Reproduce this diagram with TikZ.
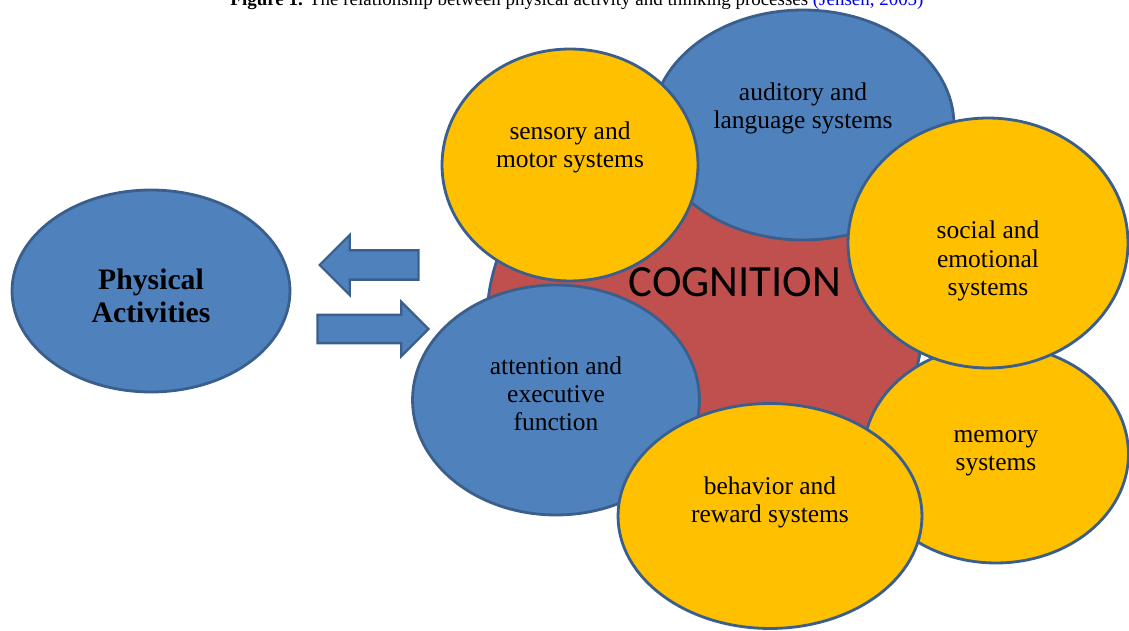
\documentclass[tikz,border=0pt]{standalone}
\usepackage{fontspec}
\setmainfont{Liberation Serif}
\newfontfamily\cogfont{Carlito}
\usepackage{tikz}
\usetikzlibrary{shapes.geometric,shapes.arrows}
\definecolor{sysblue}{HTML}{4F81BD}
\definecolor{sysline}{HTML}{3A5F8C}
\definecolor{sysyellow}{HTML}{FFC000}
\definecolor{cogred}{HTML}{C0504D}
\definecolor{citeblue}{HTML}{0000EE}
\tikzstyle{system}=[ellipse,draw=sysline,line width=1.6pt,inner sep=0pt]
\tikzstyle{systext}=[align=center,font=\fontsize{14.5}{16}\selectfont]
\tikzstyle{blockarrow}=[single arrow,draw=sysline,fill=sysblue,line width=1.3pt,inner sep=0pt,minimum size=0pt]

\begin{document}
\begin{tikzpicture}[x=0.02cm,y=-0.02cm]
    \useasboundingbox (0,0) rectangle (1129,631);
    % caption, cut at the top
    \node[anchor=base,font=\fontsize{10.8}{13}\selectfont] (caption) at (577,6)
        {\textbf{Figure 1.} The relationship between physical activity and thinking processes \textcolor{citeblue}{(Jensen, 2005)}};
    % physical activities and the two arrows
    \node[system,fill=sysblue,minimum width=5.56cm,minimum height=4.04cm] (pa) at (151,291) {};
    \node[align=center,font=\bfseries\fontsize{16.9}{18.7}\selectfont] (pa-t) at ([yshift=-5*0.02cm] pa.center) {Physical\\Activities};
    \node[blockarrow,minimum height=1.98cm,minimum width=1.16cm,single arrow head extend=0.31cm,
          shape border rotate=180,anchor=tip,text height=0.54cm] (back) at (318,265) {};
    \node[blockarrow,minimum height=2.22cm,minimum width=1.04cm,single arrow head extend=0.26cm,
          anchor=tip,text height=0.52cm] (forth) at (430,329) {};
    % cognition in the middle
    \node[ellipse,draw=sysline,line width=1.6pt,fill=cogred,minimum width=8.72cm,minimum height=8cm] (cog) at (705,320) {};
    \node[font=\cogfont\fontsize{25.4}{30}\selectfont] (cogtext) at (735,282) {COGNITION};
    % draw the systems round it
    \foreach \pos/\name/\w/\h/\col/\txt/\dy in {
        {(803,125)/aud/6.04/4.6/sysblue/{auditory and\\language systems}/17},
        {(570,165)/sens/5.12/4.64/sysyellow/{sensory and\\motor systems}/18},
        {(996,454)/mem/5.3/4.36/sysyellow/{memory\\systems}/1},
        {(988,243)/soc/5.6/5.0/sysyellow/{social and\\emotional\\systems}/-18},
        {(556,400)/att/5.74/4.6/sysblue/{attention and\\executive\\function}/6},
        {(770,516)/beh/6.08/4.5/sysyellow/{behavior and\\reward systems}/14}}
    {
        \node[system,fill=\col,minimum width=\w cm,minimum height=\h cm] (\name) at \pos {};
        \node[systext] (\name-t) at ([yshift=\dy*0.02cm] \name.center) {\txt};
    }
\end{tikzpicture}
\end{document}
